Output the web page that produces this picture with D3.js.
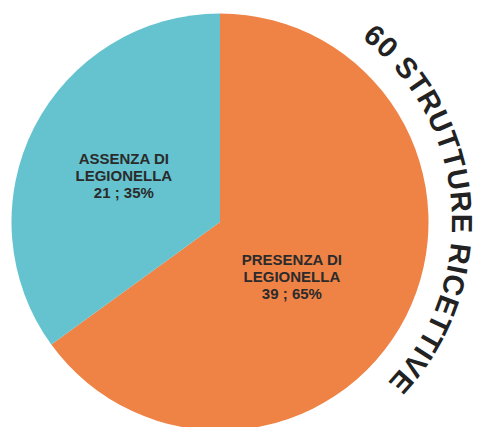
<!DOCTYPE html>
<html>
<head>
<meta charset="utf-8">
<script src="https://cdn.jsdelivr.net/npm/d3@7"></script>
<style>
  html, body { margin: 0; padding: 0; background: #fff; }
  svg { display: block; }
  text { font-family: "Liberation Sans", Arial, sans-serif; font-weight: bold; }
</style>
</head>
<body>
<div class="graph"></div>
<script>
// data
const categories = ["PRESENZA DI LEGIONELLA", "ASSENZA DI LEGIONELLA"];
const counts = [39, 21];
const percents = [65, 35];
const colors = ["#EF8245", "#64C3CF"];
const title = "60 STRUTTURE RICETTIVE";

const SIZE = {X: 480, Y: 427};
const CENTER = {X: 220, Y: 222};
const RADIUS = 208.5;

const svg = d3.select(".graph").append("svg")
    .attr("width", SIZE.X)
    .attr("height", SIZE.Y);

const graph = svg.append("g")
    .attr("transform", `translate(${CENTER.X}, ${CENTER.Y})`);

const slices = categories.map((c, i) => ({name: c, value: counts[i], pct: percents[i], color: colors[i]}));

const pie = d3.pie()
    .sort(null)
    .value(d => d.value);

const arc = d3.arc()
    .innerRadius(0)
    .outerRadius(RADIUS);

const arcs = pie(slices);

graph.selectAll("path.slice")
    .data(arcs)
    .enter()
    .append("path")
        .attr("class", "slice")
        .attr("d", arc)
        .attr("fill", d => d.data.color);

// label placement: radius + small angle nudge per slice
const labelPlace = [{r: 90, shift: 10}, {r: 107, shift: -1}];

arcs.forEach((d, i) => {
    const a = (d.startAngle + d.endAngle) / 2 + labelPlace[i].shift * Math.PI / 180;
    const lx = labelPlace[i].r * Math.sin(a);
    const ly = -labelPlace[i].r * Math.cos(a);
    const words = d.data.name.split(" ");
    const lines = [words.slice(0, 2).join(" "), words.slice(2).join(" "), `${d.data.value} ; ${d.data.pct}%`];
    const t = graph.append("text")
        .attr("text-anchor", "middle")
        .attr("font-size", 15)
        .attr("fill", "#2b2b2b")
        .attr("transform", `translate(${lx}, ${ly})`);
    lines.forEach((l, k) => {
        t.append("tspan")
            .attr("x", 0)
            .attr("y", (k - 1) * 17 + 5.5)
            .text(l);
    });
});

// curved title along the right side
const R_TEXT = 232;
const midA = 85.75, span = 96;
const a0 = (midA - span / 2) * Math.PI / 180;
const a1 = (midA + span / 2) * Math.PI / 180;
const p = d3.path();
p.arc(0, 0, R_TEXT, a0 - Math.PI / 2, a1 - Math.PI / 2, false);

graph.append("path")
    .attr("id", "titlePath")
    .attr("d", p.toString())
    .attr("fill", "none");

const titleText = graph.append("text")
    .attr("font-size", 29)
    .attr("fill", "#222");

const tp = titleText.append("textPath")
    .attr("href", "#titlePath")
    .attr("startOffset", "50%")
    .attr("text-anchor", "middle")
    .text(title);

const target = R_TEXT * (a1 - a0);
const natural = titleText.node().getComputedTextLength();
const ls = (target - natural) / (title.length - 1);
titleText.attr("letter-spacing", ls);
</script>
</body>
</html>
